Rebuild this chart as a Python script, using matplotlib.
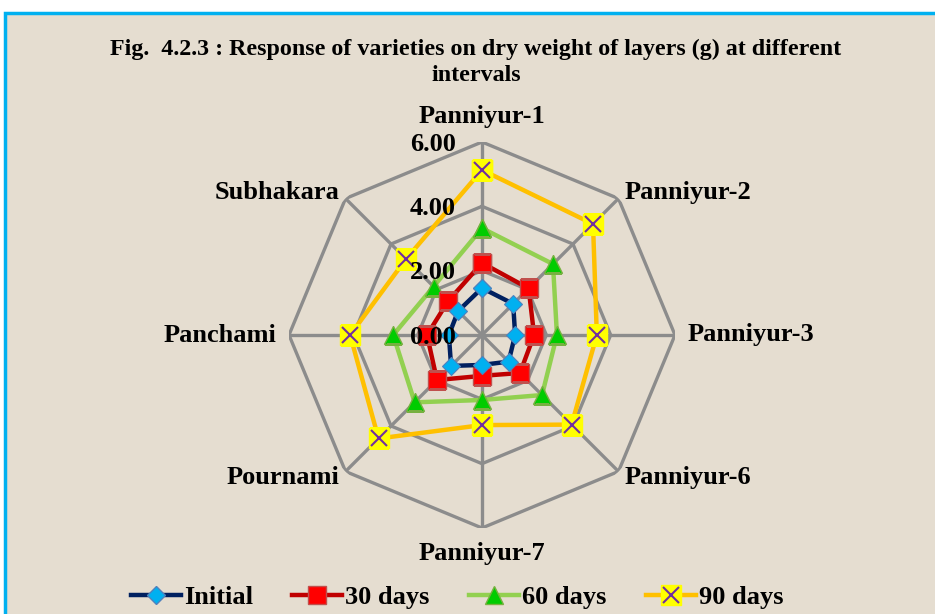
import numpy as np
import matplotlib
matplotlib.use("Agg")
import matplotlib.pyplot as plt
from matplotlib.patches import Rectangle
from matplotlib.lines import Line2D

categories = ["Panniyur-1", "Panniyur-2", "Panniyur-3", "Panniyur-6",
              "Panniyur-7", "Pournami", "Panchami", "Subhakara"]
initial = [1.46, 1.37, 1.03, 1.17, 0.93, 1.36, 1.03, 1.05]
days30 = [2.24, 2.05, 1.62, 1.67, 1.27, 1.98, 1.71, 1.49]
days60 = [3.32, 3.12, 2.33, 2.64, 2.02, 2.96, 2.76, 2.13]
days90 = [5.13, 4.88, 3.57, 3.94, 2.80, 4.55, 4.10, 3.34]
series_names = ["Initial", "30 days", "60 days", "90 days"]
rticks = [0, 2, 4, 6]
rtick_labels = ["0.00", "2.00", "4.00", "6.00"]
title = "Fig.  4.2.3 : Response of varieties on dry weight of layers (g) at different\nintervals"

plt.rcParams['font.family'] = ['Liberation Serif', 'DejaVu Serif']
plt.rcParams['font.weight'] = 'bold'

W, H = 935, 614
fig = plt.figure(figsize=(W / 100, H / 100), dpi=100, facecolor="white")
fig.patches.append(Rectangle((5 / W, -0.01), 1 - 5 / W + 0.01, 1 - 13 / H + 0.01,
                             transform=fig.transFigure, facecolor="#e5ddd0",
                             edgecolor="#00b0f0", linewidth=2.5, zorder=-10))

cx, cy, R = 482, 335, 193
ax = fig.add_axes([(cx - R) / W, (H - cy - R) / H, 2 * R / W, 2 * R / H], projection="polar")
ax.patch.set_alpha(0)
ax.set_theta_offset(np.pi / 2)
ax.set_theta_direction(-1)
ax.set_ylim(0, 6)
ax.grid(False)
ax.spines['polar'].set_visible(False)
ax.set_xticks([])
ax.set_yticks([])

n = len(categories)
angles = np.arange(n) * 2 * np.pi / n
closed = np.append(angles, angles[0])
gridc = "#8c8c8c"
for r in rticks[1:]:
    ax.plot(closed, [r] * (n + 1), color=gridc, lw=2.4, zorder=1)
for a in angles:
    ax.plot([a, a], [0, 6], color=gridc, lw=2.4, zorder=1)

def cl(v):
    return list(v) + [v[0]]

ax.plot(closed, cl(initial), color="#002060", lw=3.2, marker="D", ms=9,
        mfc="#00b0f0", mec="#4f81bd", mew=0.8, zorder=5)
ax.plot(closed, cl(days30), color="#c00000", lw=3.2, marker="s", ms=13,
        mfc="#ff0000", mec="#c0504d", mew=1, zorder=4)
ax.plot(closed, cl(days60), color="#92d050", lw=3.2, marker="^", ms=13,
        mfc="#00cc00", mec="#77b040", mew=1, zorder=3)
ax.plot(closed, cl(days90), color="#ffc000", lw=3.2, marker="s", ms=14,
        mfc="#ffff00", mec="#ffff00", zorder=2)
ax.plot(angles, days90, ls="none", marker="x", ms=12, mec="#7030a0", mew=1.5, zorder=2.5)

for r, lab in zip(rticks, rtick_labels):
    ax.annotate(lab, xy=(0, r), xytext=(-19, -1.5), textcoords="offset points",
                ha="right", va="center", fontsize=19, fontweight="bold", zorder=6)

fs = 19
label_cfg = [
    (6.42, "center", "bottom"),
    (6.25, "left", "center"),
    (6.4, "left", "center"),
    (6.25, "left", "center"),
    (6.45, "center", "top"),
    (6.25, "right", "center"),
    (6.4, "right", "center"),
    (6.25, "right", "center"),
]
for a, lab, (r, ha, va) in zip(angles, categories, label_cfg):
    ax.text(a, r, lab, ha=ha, va=va, fontsize=fs, fontweight="bold", clip_on=False)

fig.text(476 / W, 1 - 62 / H, title, ha="center", va="center", fontsize=17.3,
         fontweight="bold", linespacing=1.32)

handles = [
    Line2D([], [], color="#002060", lw=3.2, marker="D", ms=9, mfc="#00b0f0", mec="#4f81bd"),
    Line2D([], [], color="#c00000", lw=3.2, marker="s", ms=13, mfc="#ff0000", mec="#c0504d"),
    Line2D([], [], color="#92d050", lw=3.2, marker="^", ms=13, mfc="#00cc00", mec="#77b040"),
    (Line2D([], [], color="#ffc000", lw=3.2, marker="s", ms=14, mfc="#ffff00", mec="#ffff00"),
     Line2D([], [], ls="none", marker="x", ms=12, mec="#7030a0", mew=1.5)),
]
fig.legend(handles, series_names, loc="center", bbox_to_anchor=(457 / W, 1 - 597 / H),
           ncol=4, frameon=False, fontsize=fs, handlelength=1.9, handletextpad=0.1,
           columnspacing=1.5, borderpad=0)

fig.savefig("out.png", dpi=100, facecolor=fig.get_facecolor())
